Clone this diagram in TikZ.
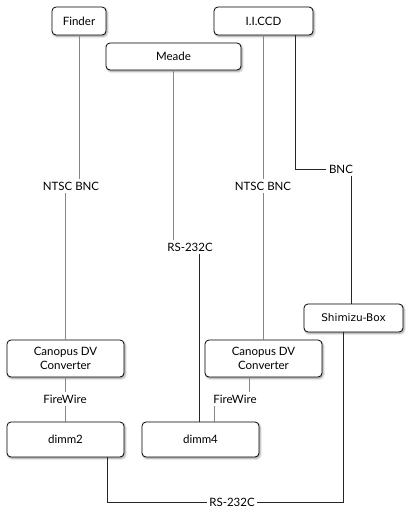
\documentclass[tikz,border=0pt]{standalone}
\usepackage{fontspec}
\setmainfont{Lato}
\newfontfamily\boxfont{DejaVu Sans}
\usetikzlibrary{shadows,shadows.blur}
\begin{document}
\begin{tikzpicture}[x=1pt,y=-1pt,
  box/.style={draw=black,line width=0.8pt,rounded corners=4pt,fill=white,
    blur shadow={shadow xshift=1.2pt,shadow yshift=-1.5pt,shadow blur steps=5,shadow opacity=40},
    inner sep=0pt,align=center,font=\fontsize{11.5}{14.5}\selectfont},
  lbl/.style={inner sep=2.5pt,font=\fontsize{11.5}{13}\selectfont},
  gl/.style={draw=gray!95,line width=0.9pt},
  bl/.style={draw=black!85,line width=0.9pt}]
\useasboundingbox (0,0) rectangle (410,512);
% boxes
\node[box,minimum width=54pt,minimum height=28pt] (finder) at (79,21) {Finder};
\node[box,minimum width=99pt,minimum height=28pt] (iccd) at (263.5,21) {I.I.CCD};
\node[box,minimum width=135pt,minimum height=27pt] (meade) at (173.5,56.5) {Meade};
\node[box,minimum width=99pt,minimum height=28pt,font=\boxfont\fontsize{10.5}{12}\selectfont] (shimizu) at (353.5,318) {Shimizu-Box};
\node[box,minimum width=117pt,minimum height=37pt] (cl) at (65.5,358.5) {Canopus DV\\Converter};
\node[box,minimum width=117pt,minimum height=37pt] (cr) at (263.5,358.5) {Canopus DV\\Converter};
\node[box,minimum width=117pt,minimum height=35pt] (dimm2) at (65.5,439.5) {dimm2};
\node[box,minimum width=117pt,minimum height=35pt] (dimm4) at (200.5,439.5) {dimm4};
% labels
\node[lbl] (nt1) at (71,186) {NTSC BNC};
\node[lbl] (nt2) at (263,186) {NTSC BNC};
\node[lbl] (bnc) at (341,169) {BNC};
\node[lbl] (rs1) at (190,247) {RS-232C};
\node[lbl] (fw1) at (65,399) {FireWire};
\node[lbl] (fw2) at (235,399) {FireWire};
\node[lbl] (rs2) at (232,502) {RS-232C};
% connectors
\draw[gl] (finder.south) -- (finder.south |- nt1.north);
\draw[gl] (cl.north |- nt1.south) -- (cl.north);
\draw[gl] (meade.south) -- (meade.south |- rs1.north);
\draw[bl] ([xshift=-1.5pt]dimm4.north |- rs1.south) -- ([xshift=-1.5pt]dimm4.north);
\draw[gl] (iccd.south) -- (iccd.south |- nt2.north);
\draw[gl] (cr.north |- nt2.south) -- (cr.north);
\draw[bl] ([xshift=31.5pt]iccd.south) |- (bnc.west);
\draw[bl] ([xshift=-2.5pt]shimizu.north |- bnc.south) -- ([xshift=-2.5pt]shimizu.north);
\draw[gl] (cl.south) -- (cl.south |- fw1.north);
\draw[gl] (dimm2.north |- fw1.south) -- (dimm2.north);
\draw[gl] ([xshift=-14pt]cr.south) -- ([xshift=-14pt]cr.south |- fw2.north);
\draw[gl] ([xshift=13.5pt]dimm4.north |- fw2.south) -- ([xshift=13.5pt]dimm4.north);
\draw[bl] ([xshift=42pt]dimm2.south) |- (rs2.west);
\draw[bl] (rs2.east) -| ([xshift=-10.5pt]shimizu.south);
\end{tikzpicture}
\end{document}
